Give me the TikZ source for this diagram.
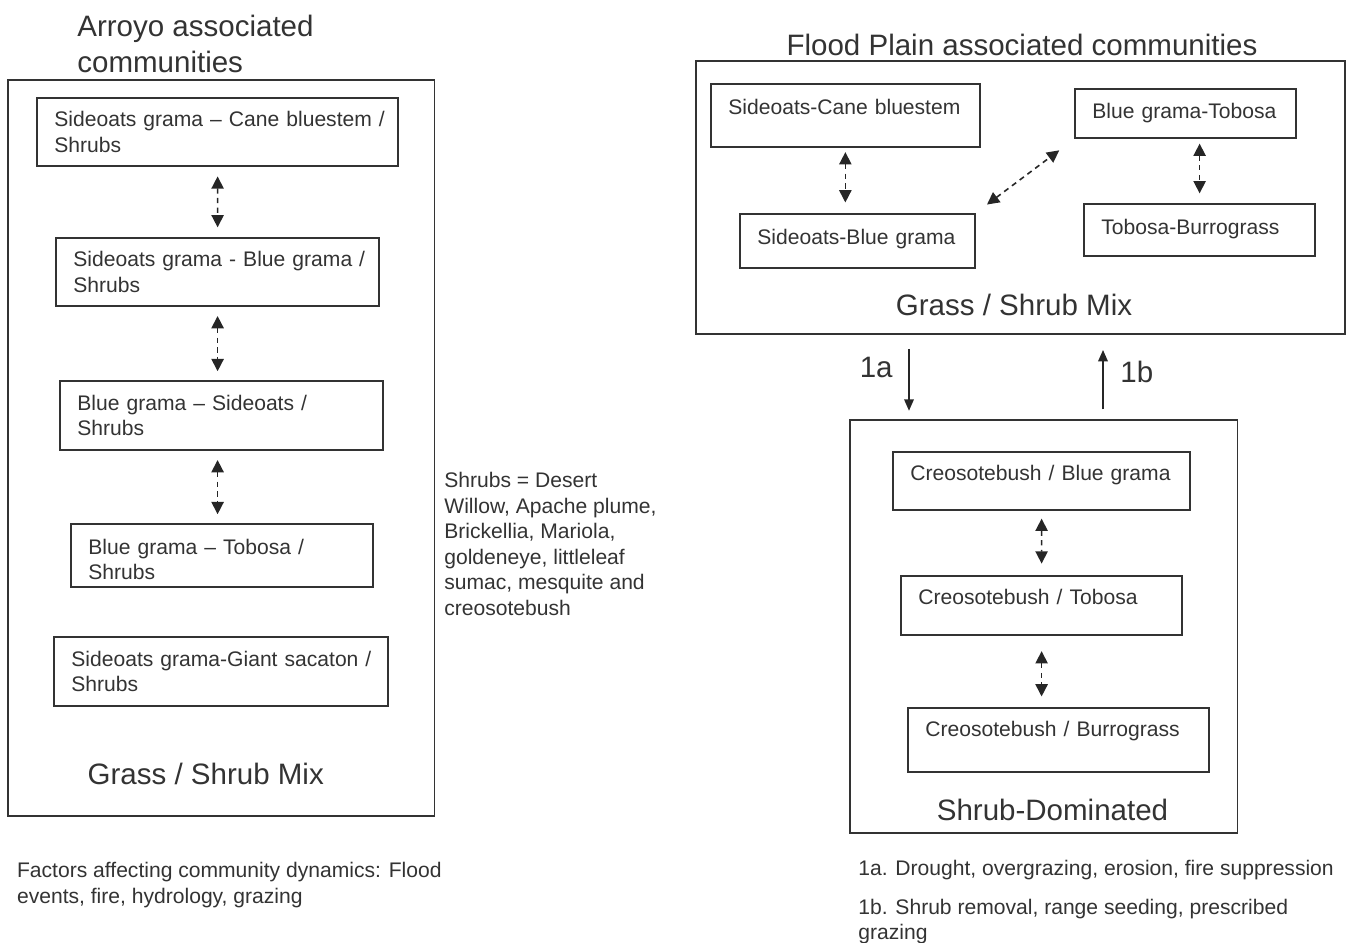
\documentclass[tikz,border=0pt]{standalone}
\usepackage{fontspec}
\setmainfont{Liberation Sans}
\usetikzlibrary{arrows.meta}

\begin{document}
\begin{tikzpicture}[x=0.02cm, y=-0.02cm,
    every node/.style={text=black!80},
    frame/.style={draw=black!80, line width=1pt, anchor=north west, inner sep=0pt},
    state/.style={draw=black!80, line width=1pt, anchor=north west, inner xsep=0.35cm,
      inner ysep=0pt, align=left, font=\fontsize{12}{14.5}\selectfont},
    oneline/.style={text height=8.8pt, text depth=#1},
    big/.style={font=\fontsize{16.8}{20.8}\selectfont, inner sep=0pt},
    note/.style={font=\fontsize{12}{14.5}\selectfont, align=left, anchor=north west, inner sep=0pt},
    link/.style={{Triangle[length=7pt,width=7pt]}-{Triangle[length=7pt,width=7pt]},
      draw=black!85, line width=0.9pt, dash pattern=on 3pt off 2.5pt, shorten <=5pt, shorten >=5pt},
    flow/.style={-{Triangle[length=6.5pt,width=5.5pt]}, draw=black!85, line width=0.8pt}]
  \useasboundingbox (0,0) rectangle (1356,943);

  %%%%% ARROYO %%%%%
  \node[big, anchor=north west, align=left] (arroyotitle) at (77,14.5) {Arroyo associated\\communities};
  \node[frame, minimum width=8.53cm, minimum height=14.72cm] (arroyo) at (7.3,79) {};

  \node[state, text width=6.53cm, minimum height=1.36cm] (a1) at (36,97) {\mbox{Sideoats grama – Cane bluestem /}\\Shrubs};
  \node[state, text width=5.77cm, minimum height=1.37cm] (a2) at (55,237) {\mbox{Sideoats grama - Blue grama /}\\Shrubs};
  \node[state, text width=5.77cm, minimum height=1.39cm] (a3) at (59,380) {\mbox{Blue grama – Sideoats /}\\Shrubs};
  \node[state, text width=5.35cm, minimum height=1.27cm, text height=13pt, text depth=14.5pt] (a4) at (70,523) {\mbox{Blue grama – Tobosa /}\\Shrubs};
  \node[state, text width=5.99cm, minimum height=1.38cm] (a5) at (53,636) {\mbox{Sideoats grama-Giant sacaton /}\\Shrubs};
  \node[big, anchor=base] (arroyomix) at (205.7,784.3) {Grass / Shrub Mix};

  \draw[link, shorten <=5.5pt, shorten >=5.5pt] (a1.south) -- (a2.north);
  \draw[link] (a2.south) -- (a2.south |- a3.north);
  \draw[link] (a3.south -| a1.south) -- (a4.north -| a1.south);

  \node[note] (shrublist) at (444,472) {Shrubs = Desert\\Willow, Apache plume,\\Brickellia, Mariola,\\goldeneye, littleleaf\\sumac, mesquite and\\creosotebush};
  \node[note] (factors) at (16.7,862) {Factors affecting community dynamics: Flood\\events, fire, hydrology, grazing};

  %%%%% FLOOD PLAIN %%%%%
  \node[big, anchor=base] (plaintitle) at (1022,55) {Flood Plain associated communities};
  \node[frame, minimum width=12.98cm, minimum height=5.46cm] (plain) at (695,60) {};

  \node[state, text width=4.68cm, minimum height=1.26cm, oneline=9.8pt] (b1) at (710,83) {\mbox{Sideoats-Cane bluestem}};
  \node[state, text width=4.00cm, minimum height=1.08cm, oneline=4.8pt] (b2) at (739,213) {\mbox{Sideoats-Blue grama}};
  \node[state, text width=3.72cm, minimum height=0.99cm, oneline=3.0pt] (b3) at (1074,88) {\mbox{Blue grama-Tobosa}};
  \node[state, text width=3.93cm, minimum height=1.05cm, oneline=4.0pt] (b4) at (1083,203) {\mbox{Tobosa-Burrograss}};
  \node[big, anchor=base] (plainmix) at (1014,315) {Grass / Shrub Mix};

  \draw[link, shorten <=2.5pt, shorten >=6pt] (b1.south) -- (b1.south |- b2.north);
  \draw[link, shorten <=8pt, shorten >=10.5pt] (b2.north east) -- (b3.south west);
  \draw[link, shorten <=2.5pt, shorten >=5.5pt] (b3.south -| b4.north) -- (b4.north);

  %%%%% SHRUB %%%%%
  \node[frame, minimum width=7.75cm, minimum height=8.27cm] (shrub) at (849.3,419) {};

  \node[state, text width=5.25cm, minimum height=1.16cm, oneline=9.6pt] (c1) at (892,451) {\mbox{Creosotebush / Blue grama}};
  \node[state, text width=4.93cm, minimum height=1.19cm, oneline=10pt] (c2) at (900,575) {\mbox{Creosotebush / Tobosa}};
  \node[state, text width=5.32cm, minimum height=1.29cm, oneline=12.8pt] (c3) at (907,707) {\mbox{Creosotebush / Burrograss}};
  \node[big, anchor=base] (shrubdom) at (1052.5,820) {Shrub-Dominated};

  \draw[link, shorten <=4.5pt, shorten >=6.5pt] (c1.south) -- (c2.north);
  \draw[link, shorten <=8.5pt, shorten >=6pt] (c2.south) -- (c2.south |- c3.north);

  %%%%% TRANSITIONS %%%%%
  \coordinate (ka) at (909,0);
  \coordinate (kb) at (1103,0);
  \draw[flow, shorten <=8pt, shorten >=4.7pt] (ka |- plain.south) -- (ka |- shrub.north);
  \draw[flow, shorten <=5.5pt, shorten >=8.7pt] (kb |- shrub.north) -- (kb |- plain.south);
  \node[big, anchor=base east] (la) at (893,377) {1a};
  \node[big, anchor=base west] (lb) at (1120,382) {1b};

  \node[note] (note1a) at (858,860) {1a. Drought, overgrazing, erosion, fire suppression};
  \node[note] (note1b) at (858,898.5) {1b. Shrub removal, range seeding, prescribed\\grazing};
\end{tikzpicture}
\end{document}
